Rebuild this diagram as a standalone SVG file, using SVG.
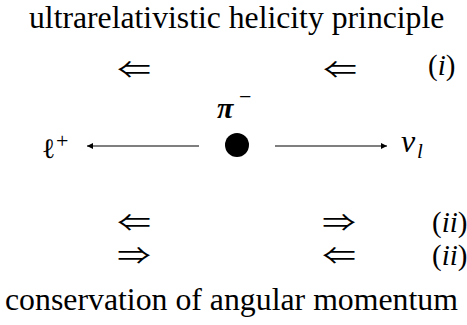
<svg xmlns="http://www.w3.org/2000/svg" width="467" height="325" viewBox="0 0 467 325">
<style>
text{fill:#000}
.ser{font-family:'Liberation Serif','Times New Roman',serif}
.it{font-family:'Liberation Serif','Times New Roman',serif;font-style:italic}
.dbl{font-family:'Noto Sans CJK JP','DejaVu Sans',sans-serif;font-size:24px;text-anchor:middle}
.ln{stroke:#000;stroke-width:1.2;fill:none}
</style>
<defs>
<marker id="ah" viewBox="0 0 10 10" refX="10" refY="5" markerWidth="9" markerHeight="6" markerUnits="userSpaceOnUse" orient="auto">
<path d="M0,0 L10,5 L0,10 Z" fill="#000"/>
</marker>
</defs>
<g id="title-top"><text class="ser" x="29" y="28" font-size="31.7">ultrarelativistic helicity principle</text></g>
<g id="row-i">
<text class="dbl" transform="translate(134,78) scale(1.4,1)">⇐</text>
<text class="dbl" transform="translate(340,78) scale(1.4,1)">⇐</text>
<text class="ser" x="428" y="75" font-size="29">(<tspan font-style="italic">i</tspan>)</text>
</g>
<g id="pion">
<text class="it" font-weight="bold" x="217" y="118" font-size="30">π</text>
<text class="ser" x="239" y="104" font-size="22">−</text>
<circle cx="237" cy="145" r="12" fill="#000"/>
</g>
<g id="lepton">
<text font-family="DejaVu Serif, serif" x="42" y="158" font-size="28">ℓ</text>
<text class="ser" x="56" y="148" font-size="22">+</text>
</g>
<g id="neutrino">
<text class="it" x="401" y="152" font-size="32">ν</text>
<text class="it" x="417" y="158" font-size="21">l</text>
</g>
<g id="connectors">
<line class="ln" x1="199" y1="146" x2="87" y2="146" marker-end="url(#ah)"/>
<line class="ln" x1="275" y1="146" x2="387" y2="146" marker-end="url(#ah)"/>
</g>
<g id="row-ii-a">
<text class="dbl" transform="translate(134,231) scale(1.4,1)">⇐</text>
<text class="dbl" transform="translate(339,231) scale(1.4,1)">⇒</text>
<text class="ser" x="432" y="232" font-size="29">(<tspan font-style="italic">ii</tspan>)</text>
</g>
<g id="row-ii-b">
<text class="dbl" transform="translate(134,264) scale(1.4,1)">⇒</text>
<text class="dbl" transform="translate(339,264) scale(1.4,1)">⇐</text>
<text class="ser" x="432" y="265" font-size="29">(<tspan font-style="italic">ii</tspan>)</text>
</g>
<g id="title-bottom"><text class="ser" x="5" y="310" font-size="31.8">conservation of angular momentum</text></g>
</svg>
